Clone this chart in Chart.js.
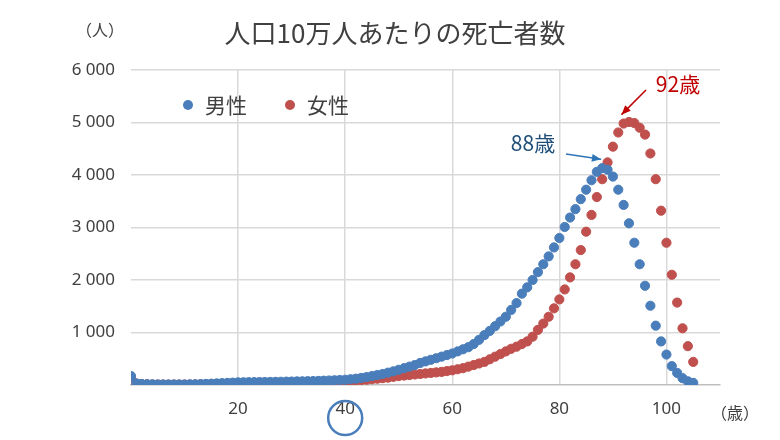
<!DOCTYPE html>
<html><head><meta charset="utf-8">
<script src="https://cdn.jsdelivr.net/npm/chart.js@4"></script>
<style>body{margin:0;background:#fff}</style>
</head><body><canvas id="c" width="780" height="440"></canvas>
<script>
const ages = Array.from({length:106},(_,i)=>i);
const male = [170,30,20,15,12,10,10,10,10,10,10,12,14,16,20,25,30,35,40,45,50,52,54,55,56,57,58,60,62,64,66,68,70,72,75,78,82,86,90,95,100,110,120,135,150,170,190,210,235,260,290,320,350,380,420,450,480,510,540,570,600,640,680,720,780,860,950,1030,1120,1210,1300,1430,1560,1740,1860,2000,2150,2300,2450,2620,2800,3010,3190,3350,3540,3720,3900,4060,4130,4100,3970,3720,3430,3080,2710,2300,1890,1510,1130,830,580,360,230,130,70,40];
const female = [150,25,15,12,10,8,8,8,8,8,8,9,10,12,14,16,18,20,22,24,26,27,28,29,30,31,32,33,35,37,39,41,43,45,48,51,55,60,65,70,75,80,86,92,100,110,120,130,140,155,170,180,190,200,210,220,230,240,250,265,280,300,320,350,380,410,440,490,540,590,640,690,730,780,830,920,1050,1170,1300,1460,1630,1820,2050,2300,2570,2920,3240,3580,3920,4240,4540,4810,4980,5010,4990,4900,4770,4410,3920,3320,2710,2100,1570,1080,740,440,520];
const xTicks = [20,40,60,80,100];
const yTicks = [1000,2000,3000,4000,5000,6000];
const blue='#4a7ebb', red='#c0504d';
const overlay = {id:'ov', afterDraw(ch){
  const c=ch.ctx, x=ch.scales.x, y=ch.scales.y;
  c.save();
  c.fillStyle='#404040'; c.font='26px "Noto Sans CJK JP"'; c.textAlign='center'; c.textBaseline='middle';
  c.fillText('人口10万人あたりの死亡者数',395,33);
  c.font='16px "Noto Sans CJK JP"'; c.fillText('（人）',100,30);
  c.fillText('（歳）',735,413);
  c.font='21px "Noto Sans CJK JP"'; c.textAlign='left';
  c.fillStyle=blue; c.beginPath(); c.arc(188,105,5,0,7); c.fill();
  c.fillStyle='#404040'; c.fillText('男性',205,105);
  c.fillStyle=red; c.beginPath(); c.arc(290,105,5,0,7); c.fill();
  c.fillStyle='#404040'; c.fillText('女性',307,105);
  c.strokeStyle=blue; c.lineWidth=2.5; c.beginPath(); c.arc(x.getPixelForValue(40),418,17,0,7); c.stroke();
  c.font='21px "Noto Sans CJK JP"'; c.textAlign='center';
  c.fillStyle='#1f4e79'; c.fillText('88歳',533,143);
  c.fillStyle='#c00000'; c.fillText('92歳',678,84);
  function arrow(x1,y1,x2,y2,col){c.strokeStyle=col;c.fillStyle=col;c.lineWidth=1.5;c.beginPath();c.moveTo(x1,y1);c.lineTo(x2,y2);c.stroke();
    const a=Math.atan2(y2-y1,x2-x1);c.beginPath();c.moveTo(x2,y2);c.lineTo(x2-10*Math.cos(a-0.4),y2-10*Math.sin(a-0.4));c.lineTo(x2-10*Math.cos(a+0.4),y2-10*Math.sin(a+0.4));c.closePath();c.fill();}
  arrow(566,154,x.getPixelForValue(87.8),y.getPixelForValue(4300),'#2e75b6');
  arrow(646,90,x.getPixelForValue(91.6),y.getPixelForValue(5150),'#c00000');
  c.restore();
}};
new Chart(document.getElementById('c'),{
  type:'scatter',
  data:{datasets:[
    {label:'男性',data:ages.map((a,i)=>({x:a,y:male[i]})),backgroundColor:blue,borderColor:blue,pointRadius:4.6},
    {label:'女性',data:ages.map((a,i)=>({x:a,y:female[i]})),backgroundColor:red,borderColor:red,pointRadius:4.6}
  ]},
  options:{responsive:false,animation:false,devicePixelRatio:1,
    layout:{padding:{top:70,right:60,bottom:10,left:0}},
    plugins:{legend:{display:false},tooltip:{enabled:false}},
    scales:{
      x:{type:'linear',min:0,max:110,afterBuildTicks:s=>{s.ticks=xTicks.map(v=>({value:v}));},
        afterFit:s=>{s.height=45;},
        grid:{color:'#d9d9d9',lineWidth:1.5,drawTicks:false},border:{color:'#bfbfbf',width:1.5},
        ticks:{color:'#404040',font:{size:17,family:'Noto Sans'},padding:14}},
      y:{min:0,max:6000,afterBuildTicks:s=>{s.ticks=yTicks.map(v=>({value:v}));},
        afterFit:s=>{s.width=131;},
        grid:{color:'#d9d9d9',lineWidth:1.5,drawTicks:false},border:{display:false},
        ticks:{color:'#404040',font:{size:17,family:'Noto Sans'},padding:16,callback:v=>String(v).replace(/(\d)(\d{3})$/,'$1 $2')}}
    }},
  plugins:[overlay]
});
</script></body></html>
